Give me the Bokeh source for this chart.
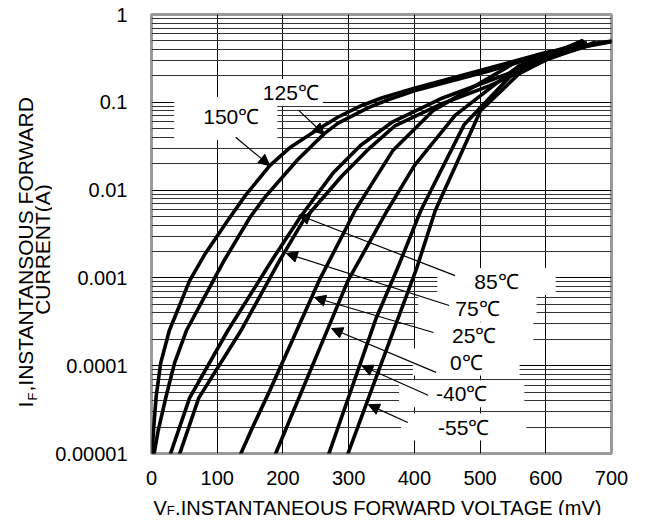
import math
from bokeh.plotting import figure
from bokeh.layouts import row, column
from bokeh.models import Label, Arrow, NormalHead, FixedTicker, Range1d
from bokeh.embed import file_html
from bokeh.resources import INLINE

# ---------------- data ----------------
x_ticks = [0, 100, 200, 300, 400, 500, 600, 700]
y_ticks = [1e-5, 1e-4, 1e-3, 1e-2, 1e-1, 1.0]
y_tick_labels = ["0.00001", "0.0001", "0.001", "0.01", "0.1", "1"]

temps = ["150℃", "125℃", "85℃", "75℃", "25℃", "0℃", "-40℃", "-55℃"]

v_150 = [1, 3, 7, 14, 27, 58, 82, 116, 143, 180, 212, 251, 284, 320, 350, 400, 500, 600, 700]
i_150 = [1e-5, 1.8e-5, 4.4e-5, 1.07e-4, 2.5e-4, 9.3e-4, 1.9e-3, 4.5e-3, 8.7e-3,
         0.019, 0.031, 0.048, 0.068, 0.092, 0.112, 0.145, 0.23, 0.37, 0.50]

v_125 = [4, 10, 22, 35, 53, 94, 111, 150, 172, 222, 263, 284, 330, 360, 400, 515, 600, 700]
i_125 = [1e-5, 1.8e-5, 4.4e-5, 1.07e-4, 2.5e-4, 9.3e-4, 1.6e-3, 4.9e-3, 8.2e-3,
         0.022, 0.044, 0.058, 0.087, 0.107, 0.135, 0.229, 0.355, 0.49]

v_85 = [29, 58, 116, 183, 227, 277, 318, 367, 443, 515, 602, 681]
i_85 = [1e-5, 4.3e-5, 2.5e-4, 1.58e-3, 5.0e-3, 0.0159, 0.0322, 0.060, 0.112,
        0.177, 0.315, 0.48]

v_75 = [43, 72, 136, 195, 231, 289, 328, 371, 443, 515, 602, 674]
i_75 = [1e-5, 4.3e-5, 2.5e-4, 1.58e-3, 4.5e-3, 0.0143, 0.0283, 0.0544, 0.097,
        0.155, 0.307, 0.48]

v_25 = [136, 154, 180, 255, 292, 310, 367, 429, 559, 660]
i_25 = [1e-5, 2.0e-5, 5.2e-5, 9.3e-4, 3.2e-3, 5.9e-3, 0.028, 0.081, 0.30, 0.48]

v_0 = [189, 299, 359, 400, 462, 559, 655]
i_0 = [1e-5, 9.3e-4, 5.9e-3, 0.019, 0.071, 0.26, 0.48]

v_m40 = [270, 342, 375, 410, 476, 559, 655]
i_m40 = [1e-5, 3.5e-4, 1.32e-3, 5.9e-3, 0.056, 0.25, 0.50]

v_m55 = [299, 342, 404, 432, 501, 559, 655]
i_m55 = [1e-5, 7.4e-5, 1.32e-3, 5.9e-3, 0.081, 0.21, 0.50]

series = [(v_150, i_150), (v_125, i_125), (v_85, i_85), (v_75, i_75),
          (v_25, i_25), (v_0, i_0), (v_m40, i_m40), (v_m55, i_m55)]

# label positions (mV, A) and arrow start/end for each temperature
label_pos = [(113, 0.0654), (212, 0.129), (525, 9.1e-4), (496, 4.5e-4),
             (491, 2.2e-4), (479, 1.1e-4), (472, 4.8e-5), (475, 2.0e-5)]
arrow_start = [(128, 0.040), (224, 0.081), (462, 1.06e-3), (453, 4.85e-4),
               (429, 2.39e-4), (433, 8.4e-5), (421, 4.6e-5), (390, 2.25e-5)]
arrow_end = [(180, 0.019), (263, 0.043), (224, 5.2e-3), (205, 1.9e-3),
             (248, 5.98e-4), (274, 2.65e-4), (320, 1.0e-4), (330, 3.6e-5)]

FONT = "Liberation Sans"
LW = 52                  # width of the y-title strip
BL, BR = 91, 19          # borders of the main chart
PH = 488                 # height of the main chart

# ---------------- main chart ----------------
p = figure(width=630 - LW, height=PH,
           x_range=Range1d(0, 700), y_range=Range1d(1e-5, 1),
           y_axis_type="log", output_backend="svg", toolbar_location=None,
           min_border_left=BL, min_border_right=BR,
           min_border_top=14, min_border_bottom=PH - 453)

p.background_fill_color = "white"
p.border_fill_color = "white"
p.outline_line_color = "#9a9a9a"
p.outline_line_width = 3

p.xaxis.ticker = FixedTicker(ticks=x_ticks)
minor = [m * d for d in y_ticks[:-1] for m in range(2, 10)]
p.yaxis.ticker = FixedTicker(ticks=y_ticks, minor_ticks=minor)
p.yaxis.major_label_overrides = dict(zip(y_ticks, y_tick_labels))

for ax in (p.xaxis, p.yaxis):
    ax.axis_line_color = None
    ax.major_tick_line_color = None
    ax.minor_tick_line_color = None
    ax.major_label_text_font = FONT
    ax.major_label_text_font_size = "20px"
    ax.major_label_text_color = "black"
p.xaxis.major_label_standoff = 11
p.yaxis.major_label_standoff = 18

p.xgrid.grid_line_color = "black"
p.xgrid.grid_line_width = 1
p.ygrid.grid_line_color = "black"
p.ygrid.grid_line_width = 1
p.ygrid.minor_grid_line_color = "#333333"
p.ygrid.minor_grid_line_width = 1

for v, i in series:
    p.line(v, i, line_color="black", line_width=3.6, line_join="round", line_cap="round")

pads = [dict(left=29, right=18, top=8, bottom=12), dict(left=4, right=4, top=2, bottom=2)] + \
       [dict(left=37, right=37, top=2, bottom=2)] * 6
for t, (lx, ly), pad in zip(temps, label_pos, pads):
    p.add_layout(Label(x=lx, y=ly, text=t, text_font=FONT, text_font_size="21px",
                       text_align="center", text_baseline="middle", text_color="black",
                       background_fill_color="white", padding=pad))

for (x0, y0), (x1, y1) in zip(arrow_start, arrow_end):
    p.add_layout(Arrow(x_start=x0, y_start=y0, x_end=x1, y_end=y1,
                       line_color="black", line_width=1.2,
                       end=NormalHead(size=11, fill_color="black", line_color="black")))


def blank(width, height, xr, yr, **borders):
    f = figure(width=width, height=height, x_range=xr, y_range=yr,
               output_backend="svg", toolbar_location=None,
               x_axis_location=None, y_axis_location=None, **borders)
    f.outline_line_color = None
    f.grid.visible = False
    f.background_fill_color = "white"
    f.border_fill_color = "white"
    return f


def lab(f, text, x, y, size, angle=0.0, align="left", baseline="alphabetic"):
    f.add_layout(Label(x=x, y=y, text=text, text_font=FONT,
                       text_font_size=f"{size}px", angle=angle,
                       text_align=align, text_baseline=baseline, text_color="black"))


# y-axis title strip: frame spans picture rows 14..453, data units = picture pixels
left = blank(LW, 515, Range1d(0, LW), Range1d(453, 14),
             min_border_left=0, min_border_right=0, min_border_top=14, min_border_bottom=62)
lab(left, "I", 25, 407, 21, angle=math.pi / 2)
lab(left, "F", 32, 400, 13, angle=math.pi / 2)
lab(left, ",INSTANTANSOUS FORWARD", 25, 391, 21, angle=math.pi / 2)
lab(left, "CURRENT(A)", 42, 249, 21, angle=math.pi / 2, align="center")

# x-axis title strip: frame spans picture columns 143..611
fx0, fx1 = LW + BL, 630 - BR
bottom = blank(630 - LW, 515 - PH, Range1d(fx0, fx1), Range1d(515, PH),
               min_border_left=BL, min_border_right=BR, min_border_top=0, min_border_bottom=0)
lab(bottom, "V", 145, 507, 20)
lab(bottom, "F", 158.5, 510, 13)
lab(bottom, ",INSTANTANEOUS FORWARD VOLTAGE (mV)", 167, 507, 20)

layout = row(left, column(p, bottom))
open("out.html", "w").write(file_html(layout, INLINE))
